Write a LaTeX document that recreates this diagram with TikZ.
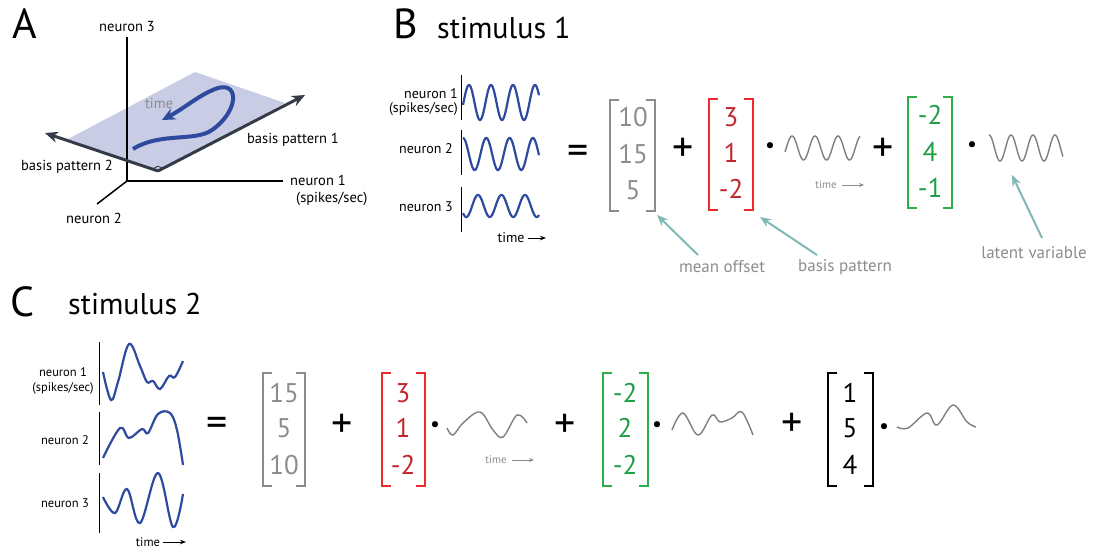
\documentclass[tikz,border=0pt]{standalone}
\usepackage{fontspec}
\setmainfont{PT Sans}
\usetikzlibrary{arrows.meta,calc}
\definecolor{wave}{HTML}{2E4A9E}
\definecolor{gtext}{HTML}{8C8C8C}
\definecolor{gwave}{HTML}{7F7F7F}
\definecolor{rnum}{HTML}{C1272D}
\definecolor{rbr}{HTML}{EE2A2E}
\definecolor{gnum}{HTML}{1F9E48}
\definecolor{gbr}{HTML}{2DB04B}
\definecolor{tealc}{HTML}{7FB9B6}
\definecolor{planec}{HTML}{C8CDE5}
\definecolor{darkax}{HTML}{353A47}
\newcommand\mbrack[5]{%
  \draw[brk,#5] (#1+9,#3) -- (#1,#3) -- (#1,#4) -- (#1+9,#4);
  \draw[brk,#5] (#2-9,#3) -- (#2,#3) -- (#2,#4) -- (#2-9,#4);}
\begin{document}
\begin{tikzpicture}[x=1pt,y=-1pt,
  lblA/.style={font=\fontsize{14.5}{17}\selectfont, inner sep=0pt},
  lblB/.style={font=\fontsize{14}{14.5}\selectfont, inner sep=0pt},
  lblC/.style={font=\fontsize{12.5}{15.5}\selectfont, inner sep=0pt, align=center},
  big/.style={font=\fontsize{42}{42}\selectfont, inner sep=0pt},
  ttl/.style={font=\fontsize{30}{30}\selectfont, inner sep=0pt, anchor=base west},
  num/.style={font=\fontsize{27}{27}\selectfont, inner sep=0pt},
  op/.style={font=\fontsize{42}{42}\selectfont, inner sep=0pt},
  dotop/.style={font=\fontsize{22}{22}\selectfont, inner sep=0pt},
  tiny/.style={font=\fontsize{11}{11}\selectfont, text=gtext, inner sep=0pt},
  note/.style={font=\fontsize{17}{17}\selectfont, text=gtext, inner sep=0pt},
  brk/.style={line width=1.5pt},
  sig/.style={wave, line width=2.2pt},
  gsig/.style={gwave, line width=1.4pt},
  frame/.style={black, line width=0.9pt},
  tarrow/.style={tealc, line width=2pt, -{Stealth[length=11pt,width=9pt]}},
  basis/.style={darkax, line width=3pt, -{Stealth[length=13pt,width=11pt]}},
  timearr/.style={black, line width=0.9pt, -{Stealth[length=6pt,width=4.5pt]}},
  gtimearr/.style={gtext, line width=1pt, -{Stealth[length=5pt,width=4pt]}}]
\useasboundingbox (0,0) rectangle (1094,552);

% ---------------- Panel A ----------------
\node[big] (A) at (25,24) {A};
\coordinate (O) at (127,181);
\coordinate (P0) at (158,171);
\coordinate (P1) at (285,103);
\coordinate (P2) at (195,72);
\coordinate (P3) at (68,139);
\fill[planec] (P0) -- (P1) -- (P2) -- (P3) -- cycle;
\coordinate (ax3) at (127,37);
\coordinate (ax1) at (283,181);
\coordinate (ax2) at (97,204);
\draw[black, line width=1.5pt] (O) -- (ax3);
\draw[black, line width=1.5pt] (O) -- (ax1);
\draw[black, line width=1.5pt] (O) -- (ax2);
\coordinate (b1) at (305,95);
\coordinate (b2) at (45,133);
\draw[basis] (P0) -- (b1);
\draw[basis] (P0) -- (b2);
\draw[darkax, line width=0.9pt] ($(P0)+(5.3,-2.8)$) -- ++(-5.7,-1.9) -- ++(-5.3,2.8);
\draw[wave, line width=4pt, -{Stealth[length=13pt,width=12pt]}]
  (133,149) .. controls (160,132) and (195,142) .. (212,130)
  .. controls (238,112) and (240,82) .. (218,88)
  .. controls (200,94) and (185,108) .. (162,120);
\node[lblA, text=gtext] (tA) at (159,103) {time};
\node[lblA] (n3A) at (127,27) {neuron 3};
\node[lblA, align=left, anchor=west] (n1A) at (290,190.5) {neuron 1\\\hspace*{6pt}(spikes/sec)};
\node[lblA] (n2A) at (94,218) {neuron 2};
\node[lblA] (bp1) at (293,140) {basis pattern 1};
\node[lblA] (bp2) at (67,167) {basis pattern 2};

% ---------------- Panel B ----------------
\node[big] (B) at (406,24) {B};
\node[ttl] (s1) at (437,38) {stimulus 1};
\node[lblB, align=right, anchor=east] (n1B) at (458,102) {neuron 1\\(spikes/sec)};
\node[lblB] (n2B) at (426,149) {neuron 2};
\node[lblB] (n3B) at (426,207) {neuron 3};
\draw[frame] (461,75) -- (461,120);
\draw[frame] (461,130) -- (461,175);
\draw[frame] (461,187) -- (461,232);
\draw[sig] plot[domain=463:539, samples=150] (\x, {102.5-17.5*cos((\x-469)/22*360)});
\draw[sig] plot[domain=463:539, samples=150] (\x, {154-16*cos((\x-463)/23.3*360)});
\draw[sig] plot[domain=463:539, samples=150] (\x, {206-11*cos((\x-478)/23.5*360)});
\node[lblB] (tB) at (511,238) {time};
\draw[timearr] ([xshift=3pt]tB.east) -- (546,238);

\node[op] (eqB) at (578,155) {=};
\mbrack{610}{655}{100}{211}{gtext}
\node[num, text=gtext] (g1) at (633,117) {10};
\node[num, text=gtext] (g2) at (633,154) {15};
\node[num, text=gtext] (g3) at (633,190) {5};
\node[op] (plB1) at (683,150) {+};
\mbrack{709}{753}{99}{210}{rbr}
\node[num, text=rnum] (r1) at (731,117) {3};
\node[num, text=rnum] (r2) at (731,153) {1};
\node[num, text=rnum] (r3) at (731,189) {-2};
\node[dotop] (dB1) at (770,148) {\textbullet};
\draw[gsig] plot[domain=785:860, samples=150] (\x, {148-12*cos((\x-792)/23*360)});
\node[tiny] (tB2) at (826,185) {time};
\draw[gtimearr] (842,185) -- (864,185);
\node[op] (plB2) at (883,150) {+};
\mbrack{908}{952}{97}{208}{gbr}
\node[num, text=gnum] (e1) at (930,115) {-2};
\node[num, text=gnum] (e2) at (930,152) {4};
\node[num, text=gnum] (e3) at (930,188) {-1};
\node[dotop] (dB2) at (972,147) {\textbullet};
\draw[gsig] plot[domain=989:1063, samples=150] (\x, {148-13*cos((\x-989)/22*360)});

\node[note] (mo) at (722,267) {mean offset};
\node[note] (bp) at (845,267) {basis pattern};
\node[note] (lv) at (1034,253) {latent variable};
\coordinate (moS) at (698,255); \coordinate (moE) at (657,215);
\coordinate (bpS) at (817,255); \coordinate (bpE) at (760,217);
\coordinate (lvS) at (1042,238); \coordinate (lvE) at (1012,175);
\draw[tarrow] (moS) -- (moE);
\draw[tarrow] (bpS) -- (bpE);
\draw[tarrow] (lvS) -- (lvE);

% ---------------- Panel C ----------------
\node[big] (C) at (22,302) {C};
\node[ttl] (s2) at (68,314) {stimulus 2};
\node[lblC] (n1C) at (63,381) {neuron 1\\(spikes/sec)};
\node[lblC] (n2C) at (65,440) {neuron 2};
\node[lblC] (n3C) at (65,503) {neuron 3};
\draw[frame] (99,342) -- (99,405);
\draw[frame] (99,412) -- (99,465);
\draw[frame] (99,473) -- (99,533);
\draw[sig] plot[smooth, tension=0.6] coordinates {(103,372) (111,400) (118,382) (129,344) (140,366) (147,382) (153,381) (160,389) (169,376) (175,377) (183,361)};
\draw[sig] plot[smooth, tension=0.6] coordinates {(103,458) (120,428) (129,438) (142,429) (148,433) (158,414) (170,413) (177,430) (183,465)};
\draw[sig] plot[smooth, tension=0.6] coordinates {(103,497) (115,513) (127,489) (140,523) (158,473) (173,527) (183,494)};
\node[lblC] (tC) at (148,542) {time};
\draw[timearr] ([xshift=3pt]tC.east) -- (186,542);

\node[op] (eqC) at (217,427) {=};
\mbrack{263}{305}{373}{486}{gtext}
\node[num, text=gtext] (cg1) at (284,393) {15};
\node[num, text=gtext] (cg2) at (284,428) {5};
\node[num, text=gtext] (cg3) at (284,465) {10};
\node[op] (plC1) at (342,426) {+};
\mbrack{382}{425}{373}{486}{rbr}
\node[num, text=rnum] (cr1) at (403,393) {3};
\node[num, text=rnum] (cr2) at (403,428) {1};
\node[num, text=rnum] (cr3) at (403,465) {-2};
\node[dotop] (dC1) at (435,427) {\textbullet};
\draw[gsig] plot[smooth, tension=0.6] coordinates {(447,428) (453,435) (463,423) (480,412) (493,430) (503,437) (517,415) (527,423)};
\node[tiny] (tC2) at (496,460) {time};
\draw[gtimearr] (512,460) -- (534,460);
\node[op] (plC2) at (565,426) {+};
\mbrack{603}{648}{373}{486}{gbr}
\node[num, text=gnum] (ce1) at (625,393) {-2};
\node[num, text=gnum] (ce2) at (625,428) {2};
\node[num, text=gnum] (ce3) at (625,465) {-2};
\node[dotop] (dC2) at (657,427) {\textbullet};
\draw[gsig] plot[smooth, tension=0.6] coordinates {(672,430) (683,413) (698,435) (712,415) (720,422) (732,418) (742,412) (753,435)};
\node[op] (plC3) at (792,425) {+};
\mbrack{828}{873}{373}{486}{black}
\node[num] (ck1) at (850,393) {1};
\node[num] (ck2) at (850,428) {5};
\node[num] (ck3) at (850,465) {4};
\node[dotop] (dC3) at (884,429) {\textbullet};
\draw[gsig] plot[smooth, tension=0.6] coordinates {(897,427) (908,428) (927,413) (937,425) (953,405) (967,422) (976,427)};
\end{tikzpicture}
\end{document}
